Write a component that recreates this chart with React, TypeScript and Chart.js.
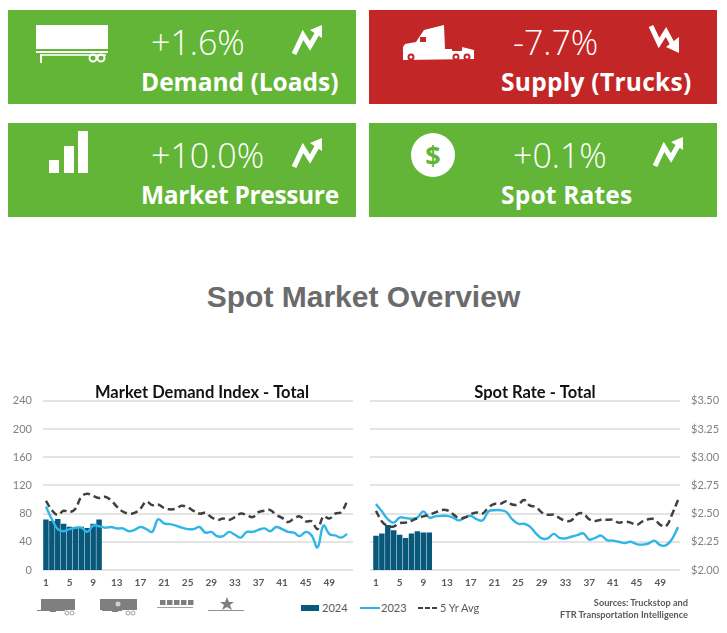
import React, { useEffect, useRef } from "react";
import { Chart, registerables } from "chart.js";

Chart.register(...registerables);

const weeks = Array.from({ length: 52 }, (_, i) => String(i + 1));

const demand2024 = [71, 69, 72, 65, 61, 60, 61, 59, 65, 71];
const demand2023 = [90, 72, 58, 55, 58, 60, 60, 54, 63, 62, 60, 61, 59, 59, 55, 57, 61, 58, 54, 72, 66, 65, 63, 60, 58, 58, 61, 53, 54, 48, 48, 54, 50, 46, 54, 54, 57, 59, 55, 61, 58, 54, 53, 48, 54, 49, 32, 63, 51, 49, 46, 51];
const demandAvg = [98, 85, 78, 84, 82, 87, 104, 108, 105, 102, 104, 99, 90, 83, 80, 81, 87, 97, 92, 93, 88, 86, 87, 91, 89, 84, 80, 81, 75, 71, 73, 71, 75, 80, 78, 75, 82, 84, 85, 78, 74, 68, 73, 76, 69, 69, 58, 76, 73, 80, 82, 97];

const rate2024 = [2.3, 2.32, 2.395, 2.35, 2.31, 2.28, 2.32, 2.34, 2.33, 2.33];
const rate2023 = [2.585, 2.52, 2.45, 2.42, 2.465, 2.46, 2.455, 2.465, 2.52, 2.465, 2.475, 2.48, 2.48, 2.465, 2.44, 2.465, 2.48, 2.45, 2.44, 2.52, 2.53, 2.53, 2.515, 2.45, 2.41, 2.41, 2.385, 2.325, 2.28, 2.28, 2.32, 2.285, 2.28, 2.295, 2.31, 2.325, 2.27, 2.285, 2.305, 2.265, 2.26, 2.25, 2.24, 2.25, 2.23, 2.225, 2.235, 2.26, 2.22, 2.22, 2.275, 2.38];
const rateAvg = [2.525, 2.43, 2.39, 2.385, 2.415, 2.42, 2.435, 2.46, 2.475, 2.49, 2.51, 2.53, 2.53, 2.495, 2.46, 2.465, 2.495, 2.51, 2.5, 2.555, 2.585, 2.585, 2.61, 2.58, 2.58, 2.62, 2.57, 2.56, 2.51, 2.49, 2.49, 2.46, 2.435, 2.44, 2.495, 2.5, 2.45, 2.435, 2.445, 2.445, 2.445, 2.42, 2.43, 2.42, 2.4, 2.43, 2.45, 2.45, 2.4, 2.39, 2.495, 2.62];

const demandTicks = { min: 0, max: 240, step: 40 };
const rateTicks = { min: 2, max: 3.5, step: 0.25 };

const BAR = "#07587A";
const LINE = "#2FB6E6";
const DASH = "#404040";
const GRID = "#E4E4E4";
const GREEN = "#62B536";
const RED = "#C32626";

// Gridlines run a little past the category band in the source chart.
const gridPlugin = {
  id: "wideGrid",
  beforeDatasetsDraw(chart: any, _a: any, opts: any) {
    const { ctx, scales } = chart;
    ctx.save();
    ctx.strokeStyle = GRID;
    ctx.lineWidth = 2;
    scales.y.ticks.forEach((t: any) => {
      const y = Math.round(scales.y.getPixelForValue(t.value));
      ctx.beginPath();
      ctx.moveTo(opts.from, y);
      ctx.lineTo(opts.to, y);
      ctx.stroke();
    });
    ctx.restore();
  },
  afterLayout(chart: any, _a: any, opts: any) {
    chart.titleBlock.left += opts.titleShift;
    chart.titleBlock.right += opts.titleShift;
  },
};

function ChartPanel(props: any) {
  const ref = useRef<HTMLCanvasElement>(null);
  useEffect(() => {
    const { title, bars, line, avg, scale, right, format, gridFrom, gridTo, titleShift } = props;
    const chart = new Chart(ref.current!, {
      type: "bar",
      plugins: [gridPlugin],
      data: {
        labels: weeks,
        datasets: [
          { type: "line", label: "5 Yr Avg", data: avg, borderColor: DASH, borderWidth: 2.5, borderDash: [7, 4], pointRadius: 0, tension: 0.4, order: 1 },
          { type: "line", label: "2023", data: line, borderColor: LINE, borderWidth: 2.4, pointRadius: 0, tension: 0.4, order: 2 },
          { type: "bar", label: "2024", data: bars, backgroundColor: BAR, barThickness: 4.8, order: 3 },
        ] as any,
      },
      options: {
        animation: false,
        responsive: false,
        layout: { padding: right ? { left: 13 } : { right: 14 } },
        plugins: {
          legend: { display: false },
          tooltip: { enabled: false },
          title: {
            display: true,
            text: title,
            fullSize: false,
            color: "#111111",
            font: { family: "Lato", size: 16.5, weight: "bold" },
            padding: { top: 3, bottom: -2 },
          },
          wideGrid: { from: gridFrom, to: gridTo, titleShift },
        } as any,
        scales: {
          x: {
            grid: { display: false, drawTicks: false },
            border: { display: false },
            afterFit: (s: any) => { s.height = 21; },
            ticks: {
              autoSkip: false,
              maxRotation: 0,
              padding: 7,
              color: "#595959",
              font: { family: "Lato", size: 10, weight: "bold" },
              callback: (_v: any, i: number) => (i % 4 === 0 ? weeks[i] : ""),
            },
          },
          y: {
            position: right ? "right" : "left",
            min: scale.min,
            max: scale.max,
            grid: { display: false, drawTicks: false },
            border: { display: false },
            afterFit: (s: any) => { s.width = right ? 46 : 43; },
            ticks: {
              stepSize: scale.step,
              padding: right ? 10 : 11,
              color: "#808080",
              font: { family: "Lato", size: 11 },
              callback: (v: any) => format(v),
            },
          },
        },
      } as any,
    });
    return () => chart.destroy();
  }, []);
  return (
    <canvas
      ref={ref}
      width={props.w}
      height={211}
      style={{ position: "absolute", left: props.x, top: 380, width: props.w, height: 211 }}
    />
  );
}

const Arrow = ({ x, y, down }: any) => (
  <svg style={{ position: "absolute", left: x, top: y }} width="32" height="32" viewBox="0 0 32 32">
    {down ? (
      <g>
        <polyline points="3,3 11,20 18,9 26,24" fill="none" stroke="#fff" strokeWidth="5" />
        <polygon points="18,24 31,30 31,14" fill="#fff" />
      </g>
    ) : (
      <g>
        <polyline points="3,29 12,10 19,21 27,7" fill="none" stroke="#fff" strokeWidth="5" />
        <polygon points="19,5 31,0 31,13" fill="#fff" />
      </g>
    )}
  </svg>
);

function Tile({ x, y, color, pct, pctLeft, label, labelLeft, spacing, children }: any) {
  return (
    <div style={{ position: "absolute", left: x, top: y, width: 348, height: 94, background: color, color: "#fff" }}>
      <div style={{ position: "absolute", left: pctLeft - x, top: 11, fontFamily: "Open Sans", fontWeight: 300, fontSize: 34, lineHeight: "42px", whiteSpace: "nowrap" }}>{pct}</div>
      <div style={{ position: "absolute", left: labelLeft - x, top: 54, fontFamily: "Open Sans", fontWeight: 700, fontSize: 24.5, lineHeight: "36px", whiteSpace: "nowrap", letterSpacing: spacing || 0 }}>{label}</div>
      {children}
    </div>
  );
}

const abs = (left: number, top: number, w: number, h: number): React.CSSProperties => ({ position: "absolute", left, top, width: w, height: h });

const LegendText = ({ x, children }: any) => (
  <div style={{ position: "absolute", left: x, top: 600, fontFamily: "Lato", fontSize: 11, lineHeight: "16px", color: "#595959", whiteSpace: "nowrap" }}>{children}</div>
);

export default function App() {
  return (
    <div style={{ position: "absolute", left: 0, top: 0, width: 727, height: 633, background: "#fff", overflow: "hidden", filter: "blur(0.45px)" }}>
      <Tile x={8} y={10} color={GREEN} pct="+1.6%" pctLeft={151} label="Demand (Loads)" labelLeft={141}>
        <svg style={abs(28, 15, 74, 38)} viewBox="0 0 74 38">
          <rect x="0" y="0" width="72" height="24" fill="#fff" />
          <rect x="0" y="26" width="72" height="2" fill="#fff" />
          <rect x="4" y="29" width="66" height="2" fill="#fff" opacity="0.8" />
          <rect x="4" y="29" width="2" height="9" fill="#fff" />
          <circle cx="57" cy="33" r="3.5" fill="none" stroke="#fff" strokeWidth="2" />
          <circle cx="65" cy="33" r="3.5" fill="none" stroke="#fff" strokeWidth="2" />
        </svg>
        <Arrow x={283} y={15} />
      </Tile>
      <Tile x={369} y={10} color={RED} pct="-7.7%" pctLeft={513} label="Supply (Trucks)" labelLeft={501} spacing={0.28}>
        <svg style={abs(33, 15, 74, 38)} viewBox="0 0 74 38">
          <path d="M1,22 L3,19 L14,17 L22,5 L42,0 L43,24 L50,24 L50,26 L60,26 L60,22 L72,25 L72,34 L1,35 Z" fill="#fff" />
          <circle cx="9" cy="32" r="3.5" fill={RED} />
          <circle cx="54" cy="32" r="3.5" fill={RED} />
          <circle cx="65" cy="32" r="3.5" fill={RED} />
          <circle cx="9" cy="32" r="1.5" fill="#fff" />
          <circle cx="54" cy="32" r="1.5" fill="#fff" />
          <circle cx="65" cy="32" r="1.5" fill="#fff" />
          <rect x="18" y="12" width="6" height="5" fill={RED} />
        </svg>
        <Arrow x={279} y={13} down />
      </Tile>
      <Tile x={8} y={123} color={GREEN} pct="+10.0%" pctLeft={151} label="Market Pressure" labelLeft={141} spacing={-0.33}>
        <div style={{ ...abs(41, 37, 10, 13), background: "#fff" }} />
        <div style={{ ...abs(56, 23, 10, 27), background: "#fff" }} />
        <div style={{ ...abs(70, 8, 10, 42), background: "#fff" }} />
        <Arrow x={283} y={15} />
      </Tile>
      <Tile x={369} y={123} color={GREEN} pct="+0.1%" pctLeft={513} label="Spot Rates" labelLeft={501} spacing={0.2}>
        <div style={{ ...abs(42, 10, 44, 44), borderRadius: "50%", background: "#fff", color: GREEN, fontFamily: "Open Sans", fontWeight: 700, fontSize: 27, lineHeight: "44px", textAlign: "center" }}>$</div>
        <Arrow x={283} y={14} />
      </Tile>

      <div style={{ position: "absolute", left: 0, width: 727, top: 278, textAlign: "center", fontFamily: "Liberation Sans", fontWeight: 700, fontSize: 30, lineHeight: "38px", color: "#6B6B6B" }}>
        Spot Market Overview
      </div>

      <ChartPanel x={0} w={364} title="Market Demand Index - Total" bars={demand2024} line={demand2023} avg={demandAvg} scale={demandTicks} format={(v: number) => String(v)} gridFrom={43} gridTo={353} titleShift={5.5} />
      <ChartPanel x={360} w={367} right title="Spot Rate - Total" bars={rate2024} line={rate2023} avg={rateAvg} scale={rateTicks} format={(v: number) => "$" + v.toFixed(2)} gridFrom={10} gridTo={320} titleShift={8} />

      <svg style={abs(30, 594, 220, 22)} viewBox="0 0 220 22" fill="#7F7F7F">
        <rect x="11" y="5" width="34" height="11" />
        <rect x="7" y="16" width="28" height="1" />
        <rect x="20" y="16" width="6" height="2" />
        <circle cx="37" cy="19" r="2" fill="none" stroke="#A0A0A0" />
        <circle cx="42" cy="19" r="2" fill="none" stroke="#A0A0A0" />
        <rect x="70" y="5" width="37" height="11" />
        <rect x="72" y="16" width="20" height="1" />
        <rect x="82" y="16" width="6" height="2" />
        <circle cx="98" cy="19" r="2" fill="none" stroke="#A0A0A0" />
        <circle cx="103" cy="19" r="2" fill="none" stroke="#A0A0A0" />
        <circle cx="88" cy="10" r="2.5" fill="#D0D0D0" />
        {[130, 137, 144, 151, 158].map((x) => (
          <rect key={x} x={x} y="6" width="5.5" height="5" />
        ))}
        <rect x="127" y="13" width="36" height="1" fill="#A0A0A0" />
        <polygon points="197,3 199,8 204,8 200,11 202,16 197,13 192,16 194,11 190,8 195,8" />
        <rect x="178" y="16" width="36" height="1" fill="#909090" />
      </svg>

      <div style={{ ...abs(301, 605, 18, 6), background: BAR }} />
      <LegendText x={322}>2024</LegendText>
      <div style={{ ...abs(360, 607, 20, 2), background: LINE }} />
      <LegendText x={381}>2023</LegendText>
      <svg style={abs(418, 605, 20, 6)} viewBox="0 0 20 6">
        <line x1="0" y1="3" x2="20" y2="3" stroke={DASH} strokeWidth="2.2" strokeDasharray="5 2" />
      </svg>
      <LegendText x={440}>5 Yr Avg</LegendText>

      <div style={{ position: "absolute", right: 39, top: 597, textAlign: "right", fontFamily: "Lato", fontWeight: 700, fontSize: 9.2, lineHeight: "12px", color: "#595959", whiteSpace: "nowrap" }}>
        Sources: Truckstop and
        <br />
        FTR Transportation Intelligence
      </div>
    </div>
  );
}
